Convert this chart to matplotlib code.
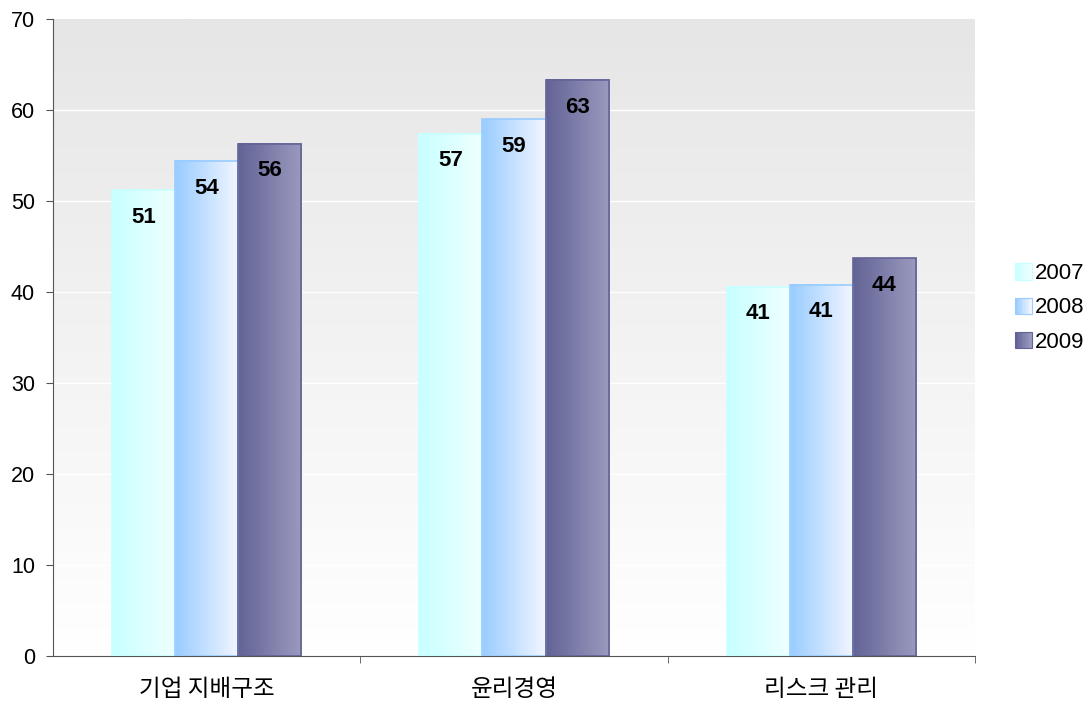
import numpy as np
import matplotlib
matplotlib.use("Agg")
import matplotlib.pyplot as plt
from matplotlib.colors import LinearSegmentedColormap
from matplotlib.patches import Patch, Rectangle
from matplotlib.legend_handler import HandlerBase

categories = ["기업 지배구조", "윤리경영", "리스크 관리"]
years = ["2007", "2008", "2009"]
v2007 = [51.2, 57.4, 40.6]
v2008 = [54.4, 59.0, 40.8]
v2009 = [56.3, 63.3, 43.7]
series = [v2007, v2008, v2009]

# gradient (left colour, right colour, edge colour) per year
grads = [("#c8ffff", "#f0ffff", "#c8ffff"),
         ("#99ccff", "#f2f6ff", "#99ccff"),
         ("#636396", "#9a9abf", "#636396")]

plt.rcParams["font.family"] = ["Liberation Sans", "DejaVu Sans"]


class GradHandler(HandlerBase):
    # legend key drawn as a small horizontal gradient square
    def create_artists(self, legend, orig_handle, xdescent, ydescent,
                       width, height, fontsize, trans):
        c0, c1, ec = orig_handle.grad
        cm = LinearSegmentedColormap.from_list("lg", [c0, c1])
        n = 12
        arts = []
        for k in range(n):
            arts.append(Rectangle((-xdescent + k * width / n, -ydescent), width / n + 0.3,
                                  height, facecolor=cm(k / (n - 1)), lw=0, transform=trans))
        arts.append(Rectangle((-xdescent, -ydescent), width, height, facecolor="none",
                              edgecolor=ec, lw=0.8, transform=trans))
        return arts


fig = plt.figure(figsize=(10.92, 7.04), dpi=100)
ax = fig.add_axes([53 / 1092, 1 - 656 / 704, (975 - 53) / 1092, (656 - 19) / 704])

ax.set_xlim(-0.5, 2.5)
ax.set_ylim(0, 70)

# background gradient
bg = LinearSegmentedColormap.from_list("bg", ["#ffffff", "#e6e6e6"])
ax.imshow(np.linspace(0, 1, 256).reshape(-1, 1), cmap=bg, origin="lower",
          extent=[-0.5, 2.5, 0, 70], aspect="auto", zorder=0)

for yv in range(10, 70, 10):
    ax.axhline(yv, color="white", lw=1, zorder=1)

width = 0.205
x = np.arange(len(categories))
for i, vals in enumerate(series):
    c0, c1, ec = grads[i]
    cm = LinearSegmentedColormap.from_list("g%d" % i, [c0, c1])
    for j, v in enumerate(vals):
        left = x[j] + (i - 1) * width - width / 2
        ax.imshow(np.linspace(0, 1, 128).reshape(1, -1), cmap=cm,
                  extent=[left, left + width, 0, v], aspect="auto", zorder=2)
        ax.bar(left, v, width=width, align="edge", facecolor="none",
               edgecolor=ec, lw=1.2, zorder=3)
        ax.annotate(str(int(round(v))), (left + width / 2, v), xytext=(0, -19.5),
                    textcoords="offset points", ha="center", va="center",
                    fontsize=16, fontweight="bold", zorder=4)

ax.set_yticks(range(0, 71, 10))
ax.tick_params(axis="y", labelsize=15.5, direction="out", length=5, color="#555555", pad=8)
ax.set_xticks(x)
ax.set_xticklabels(categories, fontsize=17, family=["Noto Sans CJK KR"])
ax.set_xticks([0.5, 1.5, 2.5], minor=True)
ax.tick_params(axis="x", which="major", length=0, pad=16)
ax.tick_params(axis="x", which="minor", length=5, direction="out", color="#555555")

for s in ["top", "right"]:
    ax.spines[s].set_visible(False)
for s in ["left", "bottom"]:
    ax.spines[s].set_color("#555555")

handles = []
for g in grads:
    p = Patch()
    p.grad = g
    handles.append(p)
fig.legend(handles, years, loc="center left", bbox_to_anchor=(1004 / 1092, 1 - 308 / 704),
           frameon=False, fontsize=16, handlelength=0.75, handleheight=0.75,
           handletextpad=0.15, labelspacing=0.6, borderpad=0,
           handler_map={Patch: GradHandler()})

fig.savefig("out.png", dpi=100)
